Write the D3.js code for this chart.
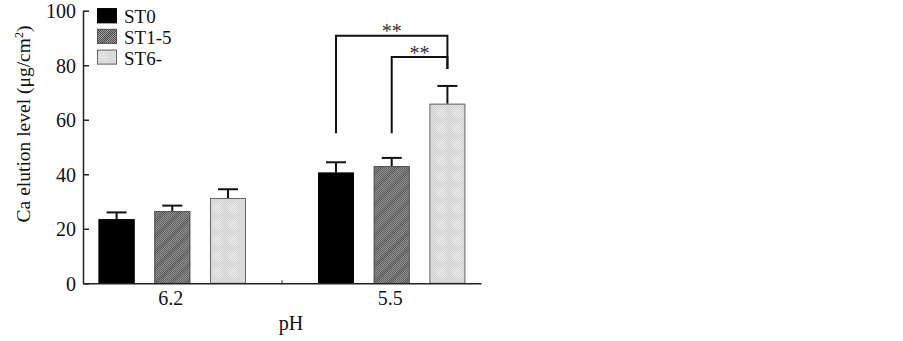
<!DOCTYPE html>
<html>
<head>
<meta charset="utf-8">
<script src="https://cdn.jsdelivr.net/npm/d3@7"></script>
<style>
	body { margin: 0; background: #fff; }
	text { font-family: "Liberation Serif", "Times New Roman", serif; fill: #111; }
</style>
</head>
<body>
<svg id="chart" width="903" height="341"></svg>
<script>
// values
const phLevels = ['6.2', '5.5'];
const series = ['ST0', 'ST1-5', 'ST6-'];
const means = {
	'6.2': [23.5, 26.5, 31.3],
	'5.5': [40.6, 43.0, 65.9]
};
const errors = {
	'6.2': [2.5, 2.0, 3.2],
	'5.5': [3.8, 3.0, 6.5]
};
const yTicks = [0, 20, 40, 60, 80, 100];
// significance brackets
const brackets = [
	{ from: 'ST0', to: 'ST6-', group: '5.5', top: 90.8, low: 55, tip: 78.6, label: '**' },
	{ from: 'ST1-5', to: 'ST6-', group: '5.5', top: 83.0, low: 55, tip: 78.6, label: '**' }
];

const svg = d3.select('#chart');
const margin = { left: 83, right: 422, top: 10.7, bottom: 57.7 };
const width = 903 - margin.left - margin.right;
const height = 341 - margin.top - margin.bottom;

const g = svg.append('g').attr('transform', 'translate(' + margin.left + ',' + margin.top + ')');

const x0 = d3.scalePoint().domain(phLevels).range([0, width]).padding(0.407);
const x1 = d3.scaleBand().domain(series).range([-73.7, 73.7]).paddingInner(0.354);
const y = d3.scaleLinear().domain([0, 100]).range([height, 0]);

// fills
const defs = svg.append('defs');
const chk = defs.append('pattern').attr('id', 'chkDark')
	.attr('patternUnits', 'userSpaceOnUse').attr('width', 2).attr('height', 2);
chk.append('rect').attr('width', 2).attr('height', 2).attr('fill', '#a8a8a8');
chk.append('rect').attr('width', 1).attr('height', 1).attr('fill', '#4a4a4a');
chk.append('rect').attr('x', 1).attr('y', 1).attr('width', 1).attr('height', 1).attr('fill', '#4a4a4a');

const stripe = defs.append('pattern').attr('id', 'stripe')
	.attr('patternUnits', 'userSpaceOnUse').attr('width', 11).attr('height', 11)
	.attr('patternTransform', 'rotate(45)');
stripe.append('rect').attr('width', 4).attr('height', 11).attr('fill', 'rgba(0,0,0,0.1)');

const chkLight = defs.append('pattern').attr('id', 'chkLight')
	.attr('patternUnits', 'userSpaceOnUse').attr('width', 2).attr('height', 2);
chkLight.append('rect').attr('width', 2).attr('height', 2).attr('fill', '#eeeeee');
chkLight.append('rect').attr('width', 1).attr('height', 1).attr('fill', '#c6c6c6');
chkLight.append('rect').attr('x', 1).attr('y', 1).attr('width', 1).attr('height', 1).attr('fill', '#c6c6c6');

const blocks = defs.append('pattern').attr('id', 'blocks')
	.attr('patternUnits', 'userSpaceOnUse').attr('width', 16).attr('height', 16);
blocks.append('rect').attr('x', 2).attr('y', 2).attr('width', 9).attr('height', 9).attr('fill', 'rgba(255,255,255,0.18)');

const fills = {
	'ST0': ['#000'],
	'ST1-5': ['url(#chkDark)', 'url(#stripe)'],
	'ST6-': ['url(#chkLight)', 'url(#blocks)']
};
const strokes = { 'ST0': '#000', 'ST1-5': '#555', 'ST6-': '#666' };

// bars
const rows = [];
phLevels.forEach(p => series.forEach((s, i) => rows.push({ ph: p, s: s, v: means[p][i], e: errors[p][i] })));

const barX = d => x0(d.ph) + x1(d.s);

rows.forEach(d => {
	fills[d.s].forEach(f => {
		g.append('rect')
			.attr('x', barX(d))
			.attr('y', y(d.v))
			.attr('width', x1.bandwidth())
			.attr('height', height - y(d.v))
			.attr('fill', f);
	});
	g.append('rect')
		.attr('x', barX(d) + 0.5)
		.attr('y', y(d.v) + 0.5)
		.attr('width', x1.bandwidth() - 1)
		.attr('height', height - y(d.v) - 0.5)
		.attr('fill', 'none')
		.attr('stroke', strokes[d.s])
		.attr('stroke-width', 1);
});

// error bars (upper only)
const err = g.append('g').attr('stroke', '#111').attr('stroke-width', 2);
rows.forEach(d => {
	const cx = barX(d) + x1.bandwidth() / 2;
	err.append('line').attr('x1', cx).attr('x2', cx).attr('y1', y(d.v)).attr('y2', y(d.v + d.e));
	err.append('line').attr('x1', cx - 10).attr('x2', cx + 10).attr('y1', y(d.v + d.e)).attr('y2', y(d.v + d.e));
});

// significance brackets
brackets.forEach(b => {
	const xa = x0(b.group) + x1(b.from) + x1.bandwidth() / 2;
	const xb = x0(b.group) + x1(b.to) + x1.bandwidth() / 2;
	g.append('path')
		.attr('d', 'M' + xa + ',' + y(b.low) + 'V' + y(b.top) + 'H' + xb + 'V' + y(b.tip))
		.attr('fill', 'none').attr('stroke', '#111').attr('stroke-width', 2);
	g.append('text')
		.attr('x', (xa + xb) / 2)
		.attr('y', y(b.top) + 2.5)
		.attr('text-anchor', 'middle')
		.style('font-size', '20px')
		.style('fill', '#333')
		.text(b.label);
});

// axes
const yAxis = g.append('g')
	.call(d3.axisLeft(y).tickValues(yTicks).tickSize(-6).tickSizeOuter(0).tickPadding(7));
yAxis.selectAll('text').style('font-size', '20px').attr('dy', '0.35em');

const xAxis = g.append('g').attr('transform', 'translate(0,' + height + ')')
	.call(d3.axisBottom(x0).tickSize(0).tickSizeOuter(0).tickPadding(8));
xAxis.selectAll('text').style('font-size', '20px').attr('dx', '-2');
// separator tick between the pH groups
xAxis.append('line')
	.attr('x1', (x0(phLevels[0]) + x0(phLevels[1])) / 2)
	.attr('x2', (x0(phLevels[0]) + x0(phLevels[1])) / 2)
	.attr('y1', 0).attr('y2', -3)
	.attr('stroke', '#222');

svg.selectAll('.domain, .tick line').attr('stroke', '#222').attr('stroke-width', 1.5);
svg.selectAll('.tick text').attr('fill', '#111');

// axis titles
g.append('text')
	.attr('x', width / 2 + 9)
	.attr('y', height + 47)
	.attr('text-anchor', 'middle')
	.style('font-size', '20px')
	.text('pH');

const yt = svg.append('text')
	.attr('transform', 'translate(30,124) rotate(-90)')
	.attr('text-anchor', 'middle')
	.style('font-size', '19.5px');
yt.append('tspan').text('Ca elution level (μg/cm');
yt.append('tspan').attr('dy', '-7').style('font-size', '12px').text('2');
yt.append('tspan').attr('dy', '7').text(')');

// legend
const legend = g.append('g').attr('transform', 'translate(14,-2.5)');
series.forEach((s, i) => {
	const row = legend.append('g').attr('transform', 'translate(0,' + (i * 20.7) + ')');
	fills[s].forEach(f => {
		row.append('rect').attr('width', 20).attr('height', 15).attr('fill', f);
	});
	row.append('rect').attr('x', 0.5).attr('y', 0.5).attr('width', 19).attr('height', 14)
		.attr('fill', 'none').attr('stroke', strokes[s]);
	row.append('text').attr('x', 27).attr('y', 15).style('font-size', '19px').text(s);
});
</script>
</body>
</html>
